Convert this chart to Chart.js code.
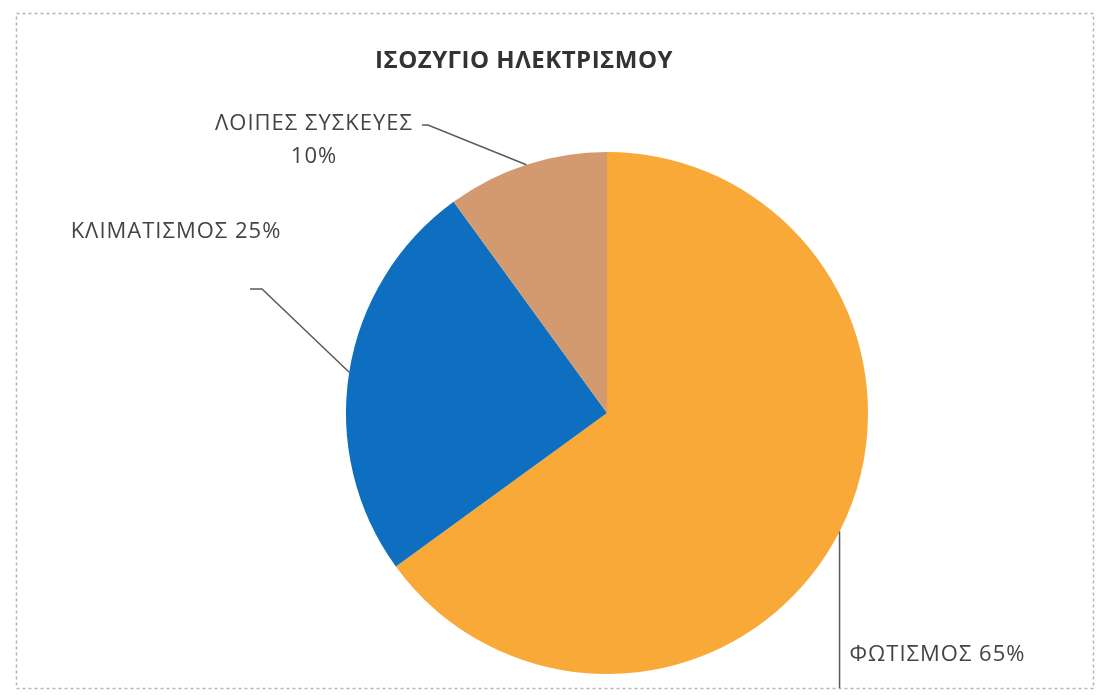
<!DOCTYPE html>
<html>
<head>
<meta charset="utf-8">
<title>ΙΣΟΖΥΓΙΟ ΗΛΕΚΤΡΙΣΜΟΥ</title>
<script src="https://cdn.jsdelivr.net/npm/chart.js@4/dist/chart.umd.min.js"></script>
<style>
  html, body { margin: 0; padding: 0; background: #fff; }
  #wrap { width: 1100px; height: 699px; position: relative; }
</style>
</head>
<body>
<div id="wrap"><canvas id="balanceChart"></canvas></div>
<script>
// ========================================
// Electricity balance pie
// ========================================

const chartTitle = 'ΙΣΟΖΥΓΙΟ ΗΛΕΚΤΡΙΣΜΟΥ';
const categories = ['ΦΩΤΙΣΜΟΣ', 'ΚΛΙΜΑΤΙΣΜΟΣ', 'ΛΟΙΠΕΣ ΣΥΣΚΕΥΕΣ'];
const shares = [65, 25, 10];
const sliceColors = ['#f9a938', '#0e6fc1', '#d39a6f'];

const textColor = '#444';
const lineColor = '#5a5a5a';

// where each label sits and how its leader line bends (canvas px)
const labelLayout = [
  { lines: (l, v) => [`${l} ${v}%`], x: 852, y: 655, align: 'left', leader: 'down', downTo: 688 },
  { lines: (l, v) => [`${l} ${v}%`], x: 176, y: 232, align: 'center', leader: [[262, 289], [250, 289]] },
  { lines: (l, v) => [l, `${v}%`], x: 314, y: 124, lineGap: 33, align: 'center', leader: [[428, 125], [422, 125]] }
];

// dashed frame + title
const framePlugin = {
  id: 'frame',
  beforeDraw(chart) {
    const ctx = chart.ctx;
    ctx.save();
    ctx.fillStyle = '#fff';
    ctx.fillRect(0, 0, chart.width, chart.height);
    ctx.strokeStyle = '#b5b5b5';
    ctx.lineWidth = 1.5;
    ctx.setLineDash([3, 3]);
    ctx.strokeRect(16.5, 13.5, 1077, 675);
    ctx.restore();
  },
  afterDraw(chart) {
    const ctx = chart.ctx;
    ctx.save();
    ctx.fillStyle = '#333';
    ctx.font = 'bold 24px "Open Sans"';
    ctx.letterSpacing = '0.5px';
    ctx.textAlign = 'center';
    ctx.textBaseline = 'middle';
    ctx.fillText(chartTitle, 524, 61);
    ctx.restore();
  }
};

// leader lines and data labels
const leaderLabels = {
  id: 'leaderLabels',
  afterDatasetsDraw(chart) {
    const ctx = chart.ctx;
    const meta = chart.getDatasetMeta(0);
    ctx.save();
    meta.data.forEach((arc, i) => {
      const p = arc.getProps(['x', 'y', 'startAngle', 'endAngle', 'outerRadius'], true);
      const mid = (p.startAngle + p.endAngle) / 2;
      const ex = p.x + Math.cos(mid) * p.outerRadius;
      const ey = p.y + Math.sin(mid) * p.outerRadius;
      const lay = labelLayout[i];

      ctx.strokeStyle = lineColor;
      ctx.lineWidth = 1.5;
      ctx.beginPath();
      ctx.moveTo(ex, ey);
      if (lay.leader === 'down') {
        ctx.lineTo(ex, lay.downTo);
      } else {
        lay.leader.forEach(pt => ctx.lineTo(pt[0], pt[1]));
      }
      ctx.stroke();

      ctx.fillStyle = textColor;
      ctx.font = '22px "Open Sans"';
      ctx.letterSpacing = '1px';
      ctx.textAlign = lay.align;
      ctx.textBaseline = 'middle';
      const x = lay.leader === 'down' ? ex + 10 : lay.x;
      lay.lines(categories[i], shares[i]).forEach((t, k) => {
        ctx.fillText(t, x, lay.y + k * (lay.lineGap || 0));
      });
    });
    ctx.restore();
  }
};

new Chart(document.getElementById('balanceChart'), {
  type: 'pie',
  data: {
    labels: categories,
    datasets: [{
      data: shares,
      backgroundColor: sliceColors,
      borderWidth: 0
    }]
  },
  options: {
    responsive: true,
    maintainAspectRatio: false,
    animation: false,
    layout: { padding: { top: 152, bottom: 25, left: 346, right: 232 } },
    plugins: {
      legend: { display: false },
      tooltip: { enabled: false },
      title: { display: false }
    }
  },
  plugins: [framePlugin, leaderLabels]
});
</script>
</body>
</html>
